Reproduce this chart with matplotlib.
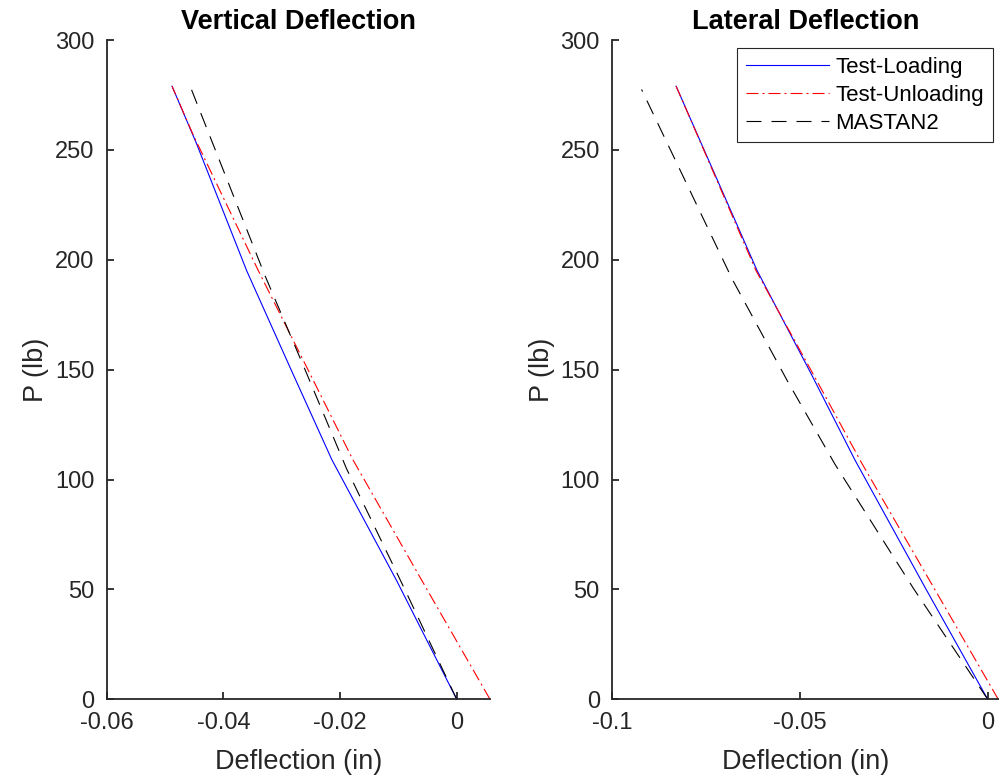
import numpy as np
import matplotlib
matplotlib.use("Agg")
import matplotlib.pyplot as plt

plt.rcParams["font.family"] = ["Liberation Sans", "DejaVu Sans"]

# Vertical deflection data (in) vs load P (lb)
vert_load_P = [0, 54, 109, 150, 195, 253.5, 279]
vert_load_d = [0, -0.0103, -0.0214, -0.0284, -0.0360, -0.0447, -0.0488]
vert_unload_P = [0, 50, 109, 150, 195, 257, 279]
vert_unload_d = [0.0057, -0.0051, -0.0178, -0.0255, -0.0340, -0.0452, -0.0488]
vert_mastan_P = [0, 50, 105, 150, 193, 279]
vert_mastan_d = [0, -0.0089, -0.0189, -0.0260, -0.0329, -0.0457]

# Lateral deflection data
lat_load_P = [0, 50, 109, 148, 195, 251, 279]
lat_load_d = [0, -0.0164, -0.0354, -0.0470, -0.0614, -0.0758, -0.0830]
lat_unload_P = [0, 50, 107, 148, 195, 251, 279]
lat_unload_d = [0.0028, -0.0141, -0.0334, -0.0465, -0.0617, -0.0759, -0.0830]
lat_mastan_P = [0, 50.5, 107, 145, 191, 277.5]
lat_mastan_d = [0, -0.0198, -0.0407, -0.0534, -0.0680, -0.0922]

series_names = ["Test-Loading", "Test-Unloading", "MASTAN2"]

dark = "#262626"
lw = 0.8
dash = (13.5, 9)
dashdot = (10.8, 3.6, 1.8, 3.6)

fig = plt.figure(figsize=(9.99, 7.76), dpi=100)
ax1 = fig.add_axes([0.1068, 0.0988, 0.3837, 0.8496])
ax2 = fig.add_axes([0.6129, 0.0988, 0.3871, 0.8496])


def draw(ax, load, unload, mastan):
    ax.plot(load[0], load[1], color="b", lw=lw, label=series_names[0])
    ax.plot(unload[0], unload[1], color="r", lw=lw, dashes=dashdot, label=series_names[1])
    ax.plot(mastan[0], mastan[1], color="k", lw=lw, dashes=dash, label=series_names[2])


draw(ax1, (vert_load_d, vert_load_P), (vert_unload_d, vert_unload_P), (vert_mastan_d, vert_mastan_P))
draw(ax2, (lat_load_d, lat_load_P), (lat_unload_d, lat_unload_P), (lat_mastan_d, lat_mastan_P))

ax1.set_xlim(-0.06, 0.0057)
ax1.set_xticks([-0.06, -0.04, -0.02, 0])
ax1.set_xticklabels(["-0.06", "-0.04", "-0.02", "0"])
ax2.set_xlim(-0.1, 0.003)
ax2.set_xticks([-0.1, -0.05, 0])
ax2.set_xticklabels(["-0.1", "-0.05", "0"])

for ax, title in [(ax1, "Vertical Deflection"), (ax2, "Lateral Deflection")]:
    ax.set_ylim(0, 300)
    ax.set_yticks(np.arange(0, 301, 50))
    ax.spines["top"].set_visible(False)
    ax.spines["right"].set_visible(False)
    for s in ["left", "bottom"]:
        ax.spines[s].set_color(dark)
        ax.spines[s].set_linewidth(1.3)
    ax.tick_params(direction="in", length=5, width=1.3, color=dark,
                   labelcolor=dark, labelsize=17)
    ax.tick_params(axis="x", pad=9)
    ax.tick_params(axis="y", pad=9)
    ax.set_title(title, fontsize=19.5, fontweight="bold", pad=8)
    ax.set_xlabel("Deflection (in)", fontsize=19.5, color=dark, labelpad=11)
    ax.set_ylabel("P (lb)", fontsize=19.5, color=dark, labelpad=4)
    for line in ax.lines:
        line.set_clip_on(False)

leg = ax2.legend(loc="upper right", bbox_to_anchor=(0.9837, 0.9874), borderaxespad=0,
                 fontsize=16, frameon=True, fancybox=False, framealpha=1,
                 edgecolor=dark, handlelength=3.7, handletextpad=0.3,
                 borderpad=0.4, labelspacing=0.3)
leg.get_frame().set_linewidth(0.8)

fig.savefig("out.png", dpi=100)
